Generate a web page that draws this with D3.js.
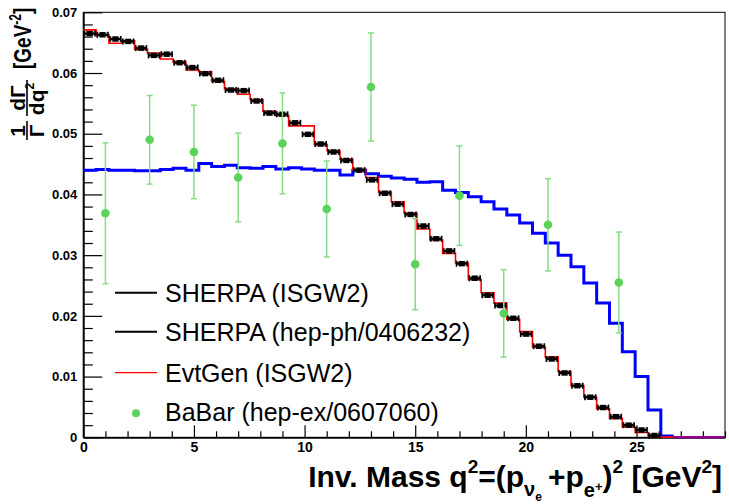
<!DOCTYPE html>
<html>
<head>
<meta charset="utf-8">
<script src="https://cdn.jsdelivr.net/npm/d3@7"></script>
<style>
  html, body { margin: 0; padding: 0; background: #fff; }
  svg { display: block; }
  text { font-family: "Liberation Sans", Arial, Helvetica, sans-serif; }
</style>
</head>
<body>
<svg id="chart" width="729" height="504"></svg>
<script>
// ---------------- data ----------------
const binWidth = 0.58;               // 50 bins over [0, 29] GeV^2
const xDomain = [0, 29];
const yDomain = [0, 0.07];
const xTicks = [0, 5, 10, 15, 20, 25];
const yTicks = [0, 0.01, 0.02, 0.03, 0.04, 0.05, 0.06, 0.07];
const yTickLabels = ["0", "0.01", "0.02", "0.03", "0.04", "0.05", "0.06", "0.07"];

// SHERPA (ISGW2) - black points with bin-width error bars
const sherpaISGW2 = [
  0.0665, 0.0663, 0.0656, 0.0652, 0.0641, 0.0629, 0.0631, 0.0617, 0.0609, 0.0599,
  0.0588, 0.0572, 0.0571, 0.0554, 0.0534, 0.0532, 0.0518, 0.0499, 0.0483, 0.0470,
  0.0456, 0.0440, 0.0424, 0.0402, 0.0384, 0.0367, 0.0348, 0.0327, 0.0307, 0.0286,
  0.0262, 0.0234, 0.0217, 0.0196, 0.0170, 0.0150, 0.0129, 0.0106, 0.0085, 0.0066,
  0.0049, 0.0034, 0.0020, 0.0012, 0.0003
];
// EvtGen (ISGW2) - red step histogram
const evtgenISGW2 = [
  0.0671, 0.0663, 0.0649, 0.0653, 0.0639, 0.0633, 0.0623, 0.0618, 0.0605, 0.0602,
  0.0586, 0.0574, 0.0565, 0.0556, 0.0537, 0.0530, 0.0513, 0.0513, 0.0482, 0.0472,
  0.0458, 0.0441, 0.0428, 0.0404, 0.0388, 0.0369, 0.0343, 0.0325, 0.0303, 0.0287,
  0.0260, 0.0238, 0.0221, 0.0194, 0.0174, 0.0149, 0.0132, 0.0108, 0.0085, 0.0066,
  0.0047, 0.0031, 0.0017, 0.0008, 0.0001, 0.00003
];
// SHERPA (hep-ph/0406232) - blue step histogram
const sherpaHepPh = [
  0.0440, 0.0441, 0.0440, 0.0440, 0.0439, 0.0439, 0.0441, 0.0443, 0.0440, 0.0451,
  0.0446, 0.0448, 0.0444, 0.0443, 0.0446, 0.0442, 0.0444, 0.0442, 0.0440, 0.0440,
  0.0432, 0.0440, 0.0434, 0.0430, 0.0427, 0.0425, 0.0420, 0.0421, 0.0407, 0.0403,
  0.0396, 0.0388, 0.0376, 0.0366, 0.0353, 0.0336, 0.0320, 0.0300, 0.0281, 0.0254,
  0.0221, 0.0188, 0.0141, 0.0100, 0.0045, 0.0002
];
// BaBar (hep-ex/0607060)
const babarQ2  = [1, 3, 5, 7, 9, 11, 13, 15, 17, 19, 21, 24.2];
const babarVal = [0.0369, 0.0490, 0.0470, 0.0428, 0.0484, 0.0376, 0.0577, 0.0285, 0.0398, 0.0204, 0.0350, 0.0255];
const babarErr = [0.0116, 0.0073, 0.0077, 0.0073, 0.0083, 0.0079, 0.0089, 0.0075, 0.0082, 0.0072, 0.0076, 0.0083];
const purpleStart = 46;  // first empty bin of magenta overlay

const legendLabels = ["SHERPA (ISGW2)", "SHERPA (hep-ph/0406232)", "EvtGen (ISGW2)", "BaBar (hep-ex/0607060)"];

// ---------------- layout ----------------
const svg = d3.select("#chart");
const L = 83.3, R = 725, T = 12.3, B = 437.3;
const x = d3.scaleLinear().domain(xDomain).range([L, R]);
const y = d3.scaleLinear().domain(yDomain).range([B, T]);

const C = { red: "#ff0000", blue: "#0000ff", green: "#5bd35b", greenBar: "#86dc86", purple: "#8b008b" };

svg.append("rect").attr("width", 729).attr("height", 504).attr("fill", "#fff");

// frame
svg.append("rect").attr("x", L).attr("y", T).attr("width", R - L).attr("height", B - T)
  .attr("fill", "none").attr("stroke", "#000").attr("stroke-width", 1);

// ---------------- axes ----------------
const yMinor = d3.range(0, 0.0701, 0.002).filter(v => Math.abs(v / 0.01 - Math.round(v / 0.01)) > 1e-6);
const yAxis = svg.append("g").attr("transform", `translate(${L},0)`)
  .call(d3.axisLeft(y).tickValues(yTicks).tickSizeInner(-19).tickSizeOuter(0).tickPadding(6)
    .tickFormat((d, i) => yTickLabels[i]));
svg.append("g").attr("transform", `translate(${L},0)`)
  .call(d3.axisLeft(y).tickValues(yMinor).tickSizeInner(-9.5).tickSizeOuter(0).tickFormat(""))
  .select(".domain").remove();

const xMinor = d3.range(0, 30, 1).filter(v => v % 5 !== 0);
const xAxis = svg.append("g").attr("transform", `translate(0,${B})`)
  .call(d3.axisBottom(x).tickValues(xTicks).tickSizeInner(-12).tickSizeOuter(0).tickPadding(5).tickFormat(d3.format("d")));
svg.append("g").attr("transform", `translate(0,${B})`)
  .call(d3.axisBottom(x).tickValues(xMinor).tickSizeInner(-6).tickSizeOuter(0).tickFormat(""))
  .select(".domain").remove();

svg.selectAll(".tick line").attr("stroke", "#000").attr("stroke-width", 1.2);
svg.selectAll(".domain").attr("stroke", "#000").attr("stroke-width", 1.8);
yAxis.selectAll("text").attr("font-family", "Liberation Sans, Arial, sans-serif")
  .attr("font-weight", "bold").attr("font-size", 13).attr("fill", "#000");
xAxis.selectAll("text").attr("font-family", "Liberation Sans, Arial, sans-serif")
  .attr("font-weight", "bold").attr("font-size", 14).attr("fill", "#000");

// ---------------- histograms ----------------
function stepPoints(vals) {
  const pts = vals.map((v, i) => [i * binWidth, v]);
  pts.push([vals.length * binWidth, vals[vals.length - 1]]);
  return pts;
}
const stepLine = d3.line().x(d => x(d[0])).y(d => y(d[1])).curve(d3.curveStepAfter);

// purple empty overlay
svg.append("line")
  .attr("x1", x(purpleStart * binWidth)).attr("x2", x(xDomain[1]) - 1)
  .attr("y1", y(0)).attr("y2", y(0))
  .attr("stroke", C.purple).attr("stroke-width", 2.5);

svg.append("path").datum(stepPoints(sherpaHepPh)).attr("d", stepLine)
  .attr("fill", "none").attr("stroke", C.blue).attr("stroke-width", 3);
svg.append("path").datum(stepPoints(evtgenISGW2)).attr("d", stepLine)
  .attr("fill", "none").attr("stroke", C.red).attr("stroke-width", 1.6);

// black points
const pts = svg.append("g");
sherpaISGW2.forEach((v, i) => {
  const x0 = x(i * binWidth), x1 = x((i + 1) * binWidth), yy = y(v), xc = (x0 + x1) / 2;
  pts.append("line").attr("x1", x0 + 0.5).attr("x2", x1 - 0.5).attr("y1", yy).attr("y2", yy)
    .attr("stroke", "rgba(0,0,0,0.28)").attr("stroke-width", 5);
  pts.append("line").attr("x1", x0 + 1).attr("x2", x1 - 1).attr("y1", yy).attr("y2", yy)
    .attr("stroke", "#000").attr("stroke-width", 2.2);
  pts.append("line").attr("x1", x0 + 1).attr("x2", x0 + 1).attr("y1", yy - 3).attr("y2", yy + 3)
    .attr("stroke", "#000").attr("stroke-width", 1.6);
  pts.append("line").attr("x1", x1 - 1).attr("x2", x1 - 1).attr("y1", yy - 3).attr("y2", yy + 3)
    .attr("stroke", "#000").attr("stroke-width", 1.6);
  pts.append("rect").attr("x", xc - 3).attr("y", yy - 2.7).attr("width", 6).attr("height", 5.4).attr("fill", "#000");
});

// BaBar points
const bb = svg.append("g");
babarQ2.forEach((q, i) => {
  const xc = x(q), yv = y(babarVal[i]), yt = y(babarVal[i] + babarErr[i]), yb = y(babarVal[i] - babarErr[i]);
  bb.append("line").attr("x1", xc).attr("x2", xc).attr("y1", yt).attr("y2", yb)
    .attr("stroke", C.greenBar).attr("stroke-width", 1.5);
  [yt, yb].forEach(yy => bb.append("line").attr("x1", xc - 3).attr("x2", xc + 3).attr("y1", yy).attr("y2", yy)
    .attr("stroke", C.greenBar).attr("stroke-width", 1.5));
  bb.append("circle").attr("cx", xc).attr("cy", yv).attr("r", 4.3).attr("fill", C.green);
});

// ---------------- legend ----------------
const lg = svg.append("g").attr("font-family", "Liberation Sans, Arial, sans-serif").attr("font-size", 25);
const rowsY = [292.7, 331.7, 372.7, 412.5];
const lineStyles = [{ c: "#000", w: 2 }, { c: "#000", w: 2 }, { c: C.red, w: 1.2 }];
lineStyles.forEach((s, i) => {
  lg.append("line").attr("x1", 115).attr("x2", 157).attr("y1", rowsY[i]).attr("y2", rowsY[i])
    .attr("stroke", s.c).attr("stroke-width", s.w);
});
lg.append("circle").attr("cx", 136).attr("cy", 413.3).attr("r", 4).attr("fill", C.green);
legendLabels.forEach((t, i) => {
  lg.append("text").attr("x", 165).attr("y", rowsY[i] + 8.8).attr("fill", "#000").text(t);
});

// ---------------- axis titles ----------------
// x title
const xt = svg.append("text").attr("x", 722).attr("y", 487).attr("text-anchor", "end")
  .attr("font-weight", "bold").attr("font-size", 30).attr("fill", "#000");
const parts = [
  ["Inv. Mass q", 30, 0],
  ["2", 19, -14],
  ["=(p", 30, 14],
  ["\u03bd", 20, 9],
  ["e", 12, 5],
  ["\u2009+p", 30, -14],
  ["e", 20, 10],
  ["+", 13, -6],
  [")", 30, -4],
  ["2", 19, -14],
  [" [GeV", 30, 14],
  ["2", 19, -14],
  ["]", 30, 14]
];
parts.forEach(p => xt.append("tspan").attr("font-size", p[1]).attr("dy", p[2]).text(p[0]));

// y title (rotated)
const yt = svg.append("g").attr("transform", "translate(27,165) rotate(-90)")
  .attr("font-weight", "bold").attr("fill", "#000");
yt.append("text").attr("x", 34).attr("y", -2.5).attr("text-anchor", "middle").attr("font-size", 21).text("1");
yt.append("line").attr("x1", 25).attr("x2", 44).attr("y1", 0).attr("y2", 0).attr("stroke", "#000").attr("stroke-width", 1.6);
yt.append("text").attr("x", 34).attr("y", 17).attr("text-anchor", "middle").attr("font-size", 21).text("\u0393");
yt.append("text").attr("x", 67).attr("y", -2.5).attr("text-anchor", "middle").attr("font-size", 21).text("d\u0393");
yt.append("line").attr("x1", 49).attr("x2", 85).attr("y1", 0).attr("y2", 0).attr("stroke", "#000").attr("stroke-width", 1.6);
const dq = yt.append("text").attr("x", 66).attr("y", 17).attr("text-anchor", "middle").attr("font-size", 21);
dq.append("tspan").text("dq");
dq.append("tspan").attr("font-size", 12).attr("dy", -10).text("2");
const gevG = yt.append("g").attr("transform", "translate(96,4) scale(1,1.3)");
const gev = gevG.append("text").attr("x", 0).attr("y", 0).attr("font-size", 19);
gev.append("tspan").text("[GeV");
gev.append("tspan").attr("font-size", 12).attr("dy", -8).text("-2");
gev.append("tspan").attr("dy", 8).text("]");
</script>
</body>
</html>
